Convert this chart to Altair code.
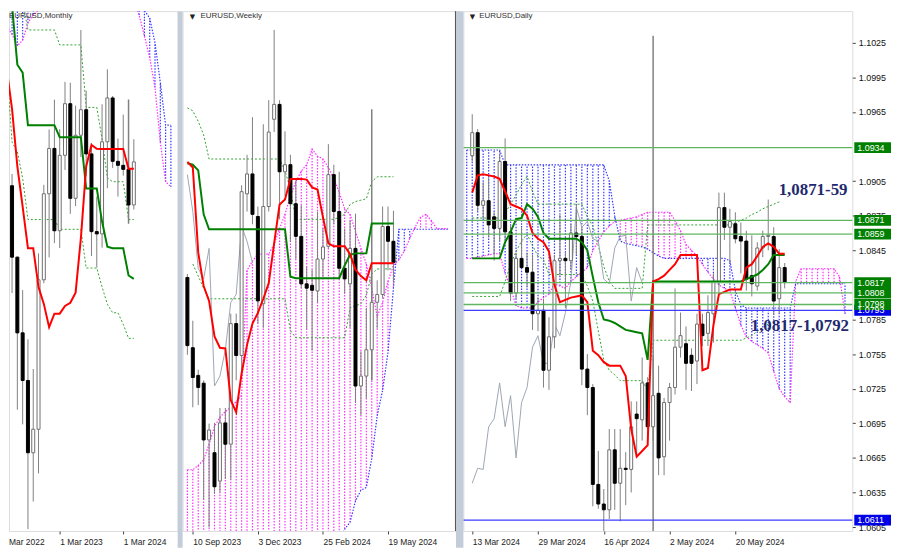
import altair as alt
import pandas as pd

FONT = "Liberation Sans"
PINK = "#ff2eff"
BLUE = "#3636ff"
RED = "#ff0000"
GREEN = "#008000"
GDOT = "#2ea52e"
CHIKOU = "#9ea6b2"
WICK = "#808080"
FRAME = "#4a4a4a"
BAND = "#c3cdd9"
LVL_GREEN = "#5fb85f"
LVL_BLUE = "#3c3cff"
NAVY = "#1f2a6e"

# ======================= MONTHLY (i0 = May 2022) =======================
m_ticks = [10, 22]
m_tick_labels = ["1 Mar 2023", "1 Mar 2024"]
m_open = [1.0543, 1.0733, 1.0484, 1.0220, 1.0054, 0.9802, 0.9884, 1.0405, 1.0705, 1.0863,
          1.0576, 1.0839, 1.1019, 1.0689, 1.0909, 1.0998, 1.0844, 1.0573, 1.0565, 1.0886,
          1.1039, 1.0818, 1.0804, 1.0790, 1.0666]
m_high = [1.0787, 1.0774, 1.0486, 1.0369, 1.0198, 1.0094, 1.0497, 1.0736, 1.0929, 1.1033,
          1.0930, 1.1095, 1.1092, 1.1012, 1.1276, 1.1064, 1.0882, 1.0695, 1.1017, 1.1139,
          1.1046, 1.0897, 1.0981, 1.0885, 1.0895]
m_low = [1.0349, 1.0359, 0.9952, 0.9901, 0.9536, 0.9632, 0.9730, 1.0393, 1.0483, 1.0533,
         1.0516, 1.0788, 1.0635, 1.0662, 1.0833, 1.0766, 1.0488, 1.0448, 1.0517, 1.0724,
         1.0795, 1.0695, 1.0768, 1.0601, 1.0650]
m_close = [1.0733, 1.0484, 1.0220, 1.0054, 0.9802, 0.9884, 1.0405, 1.0705, 1.0863, 1.0576,
           1.0839, 1.1019, 1.0689, 1.0909, 1.0998, 1.0844, 1.0573, 1.0565, 1.0886, 1.1039,
           1.0818, 1.0804, 1.0790, 1.0666, 1.0816]
m_tenkan = [1.1138, 1.1000, 1.0800, 1.0660, 1.0515, 1.0515, 1.0380, 1.0321, 1.0240, 1.0287,
            1.0287, 1.0314, 1.0325, 1.0360, 1.0550, 1.0800, 1.0875, 1.0862, 1.0861, 1.0861,
            1.0861, 1.0861, 1.0861, 1.0792, 1.0792]
m_kijun = [1.1359, 1.1359, 1.1155, 1.1127, 1.0944, 1.0944, 1.0944, 1.0944, 1.0944, 1.0944,
           1.0902, 1.0902, 1.0902, 1.0902, 1.0902, 1.0723, 1.0723, 1.0723, 1.0608, 1.0520,
           1.0515, 1.0515, 1.0515, 1.0420, 1.0408]
m_gd1_start = 3
m_gd1 = [1.1380, 1.1276, 1.1276, 1.1276, 1.1276, 1.1276, 1.1276, 1.1224, 1.1224, 1.1224,
         1.1224, 1.1224, 1.1006, 1.1006, 1.1006, 1.0896, 1.0760, 1.0747, 1.0747, 1.0747,
         1.0615, 1.0615]
m_gd2 = [1.1150, 1.0885, 1.0851, 1.0760, 1.0615, 1.0615, 1.0615, 1.0615, 1.0615, 1.0615,
         1.0581, 1.0581, 1.0581, 1.0581, 1.0581, 1.0446, 1.0446, 1.0446, 1.0380, 1.0320,
         1.0290, 1.0290, 1.0250, 1.0201, 1.0201]
m_span_a = [1.1290, 1.1260, 1.1221, 1.1240, 1.1300, 1.1330, 1.1345, 1.1400, 1.1400, 1.1400,
            1.1400, 1.1400, 1.1400, 1.1400, 1.1400, 1.1400, 1.1400, 1.1400, 1.1400, 1.1400,
            1.1400, 1.1400, 1.1400, 1.1400, 1.1369, 1.1328, 1.1255, 1.1179, 1.1075, 1.0885,
            1.0747, 1.0729]
m_span_b = [1.1420, 1.1420, 1.1420, 1.1420, 1.1420, 1.1420, 1.1420, 1.1420, 1.1420, 1.1420,
            1.1420, 1.1420, 1.1420, 1.1420, 1.1420, 1.1420, 1.1420, 1.1420, 1.1420, 1.1420,
            1.1420, 1.1420, 1.1420, 1.1420, 1.1420, 1.1370, 1.1345, 1.1317, 1.1231, 1.1093,
            1.0944, 1.0944]
m_vline = [(23, 1.1034, 1.0601)]

# ======================= WEEKLY (i0 = 3 Sep 2023) =======================
w_ticks = [1, 13, 25, 37]
w_tick_labels = ["10 Sep 2023", "3 Dec 2023", "25 Feb 2024", "19 May 2024"]
w_open = [1.0795, 1.0696, 1.0657, 1.0646, 1.0566, 1.0548, 1.0508, 1.0590, 1.0560, 1.0730,
          1.0685, 1.0913, 1.0941, 1.0881, 1.0758, 1.0895, 1.1018, 1.1039, 1.0944, 1.0954,
          1.0899, 1.0853, 1.0786, 1.0784, 1.0776, 1.0821, 1.0839, 1.0940, 1.0888, 1.0808,
          1.0786, 1.0836, 1.0642, 1.0656, 1.0693, 1.0760, 1.0771, 1.0867, 1.0846]
w_high = [1.0800, 1.0734, 1.0665, 1.0650, 1.0589, 1.0590, 1.0611, 1.0611, 1.0744, 1.0744,
          1.0925, 1.0968, 1.1021, 1.0895, 1.1011, 1.1045, 1.1144, 1.1045, 1.1001, 1.0968,
          1.0932, 1.0897, 1.0810, 1.0806, 1.0888, 1.0865, 1.0983, 1.0954, 1.0944, 1.0864,
          1.0876, 1.0885, 1.0691, 1.0752, 1.0812, 1.0791, 1.0895, 1.0895, 1.0889]
w_low = [1.0686, 1.0612, 1.0615, 1.0482, 1.0443, 1.0490, 1.0492, 1.0511, 1.0510, 1.0650,
         1.0660, 1.0888, 1.0870, 1.0730, 1.0724, 1.0888, 1.1000, 1.0877, 1.0910, 1.0845,
         1.0821, 1.0780, 1.0722, 1.0692, 1.0760, 1.0796, 1.0836, 1.0870, 1.0794, 1.0772,
         1.0724, 1.0618, 1.0601, 1.0624, 1.0650, 1.0723, 1.0765, 1.0805, 1.0788]
w_close = [1.0699, 1.0654, 1.0640, 1.0566, 1.0580, 1.0500, 1.0590, 1.0560, 1.0730, 1.0685,
           1.0916, 1.0941, 1.0884, 1.0762, 1.0895, 1.1000, 1.1039, 1.0944, 1.0954, 1.0899,
           1.0853, 1.0786, 1.0780, 1.0777, 1.0821, 1.0838, 1.0940, 1.0888, 1.0808, 1.0793,
           1.0836, 1.0642, 1.0656, 1.0693, 1.0760, 1.0771, 1.0867, 1.0846, 1.0816]
w_tenkan = [1.0958, 1.0950, 1.0830, 1.0783, 1.0762, 1.0712, 1.0696, 1.0695, 1.0622, 1.0605,
            1.0660, 1.0700, 1.0730, 1.0745, 1.0765, 1.0787, 1.0843, 1.0898, 1.0905, 1.0934,
            1.0934, 1.0934, 1.0933, 1.0922, 1.0919, 1.0880, 1.0843, 1.0839, 1.0839, 1.0839,
            1.0828, 1.0806, 1.0797, 1.0791, 1.0815, 1.0815, 1.0815, 1.0815, 1.0815]
w_kijun = [1.0956, 1.0954, 1.0946, 1.0884, 1.0863, 1.0863, 1.0863, 1.0863, 1.0863, 1.0863,
           1.0863, 1.0863, 1.0863, 1.0863, 1.0863, 1.0863, 1.0863, 1.0863, 1.0863, 1.0796,
           1.0794, 1.0794, 1.0794, 1.0794, 1.0794, 1.0794, 1.0794, 1.0794, 1.0794, 1.0812,
           1.0827, 1.0829, 1.0829, 1.0829, 1.0871, 1.0871, 1.0871, 1.0871, 1.0871]
w_chikou = [1.0940, 1.0888, 1.0808, 1.0793, 1.0836, 1.0642, 1.0656, 1.0693, 1.0760, 1.0771,
            1.0867, 1.0846, 1.0816]
w_gd1 = [1.1034, 1.1030, 1.1015, 1.0996, 1.0962, 1.0962, 1.0962, 1.0962, 1.0962, 1.0962,
         1.0962, 1.0962, 1.0962, 1.0962, 1.0962, 1.0962, 1.0962, 1.0962, 1.0945, 1.0920,
         1.0877, 1.0877, 1.0877, 1.0877, 1.0877, 1.0877, 1.0877, 1.0877, 1.0880, 1.0884,
         1.0898, 1.0902, 1.0904, 1.0906, 1.0930, 1.0937, 1.0937, 1.0937, 1.0937]
w_gd2_start = 1
w_gd2 = [1.0814, 1.0797, 1.0780, 1.0765, 1.0765, 1.0765, 1.0765, 1.0765, 1.0765, 1.0765,
         1.0765, 1.0765, 1.0765, 1.0765, 1.0765, 1.0765, 1.0765, 1.0765, 1.0720, 1.0710,
         1.0710, 1.0710, 1.0710, 1.0710, 1.0710, 1.0710, 1.0710, 1.0710, 1.0710, 1.0752,
         1.0755, 1.0758, 1.0770, 1.0800, 1.0807, 1.0807, 1.0807, 1.0807]
w_span_a = [1.0524, 1.0524, 1.0530, 1.0538, 1.0560, 1.0585, 1.0598, 1.0606, 1.0612, 1.0620,
            1.0629, 1.0805, 1.0818, 1.0828, 1.0828, 1.0828, 1.0842, 1.0864, 1.0884, 1.0910,
            1.0930, 1.0945, 1.0954, 1.0976, 1.0966, 1.0962, 1.0950, 1.0935, 1.0915, 1.0892,
            1.0884, 1.0860, 1.0836, 1.0814, 1.0780, 1.0740, 1.0760, 1.0790, 1.0812, 1.0820,
            1.0832, 1.0850, 1.0866, 1.0880, 1.0884, 1.0875, 1.0864, 1.0864, 1.0864]
w_span_b = [1.0380, 1.0380, 1.0380, 1.0380, 1.0380, 1.0380, 1.0380, 1.0380, 1.0380, 1.0380,
            1.0380, 1.0380, 1.0380, 1.0380, 1.0380, 1.0380, 1.0380, 1.0380, 1.0380, 1.0380,
            1.0380, 1.0380, 1.0380, 1.0380, 1.0380, 1.0380, 1.0380, 1.0380, 1.0426, 1.0440,
            1.0450, 1.0480, 1.0495, 1.0499, 1.0540, 1.0600, 1.0636, 1.0690, 1.0780, 1.0863,
            1.0863, 1.0863, 1.0863, 1.0863, 1.0863, 1.0863, 1.0863, 1.0863, 1.0863]
w_vline = [(34, 1.1032, 1.0650)]

# ======================= DAILY (i0 = 13 Mar 2024) =======================
d_ticks = [0, 12, 24, 36, 48]
d_tick_labels = ["13 Mar 2024", "29 Mar 2024", "16 Apr 2024", "2 May 2024", "20 May 2024"]
d_open = [1.0927, 1.0947, 1.0884, 1.0888, 1.0874, 1.0864, 1.0922, 1.0861, 1.0808, 1.0838,
          1.0830, 1.0826, 1.0790, 1.0793, 1.0741, 1.0770, 1.0836, 1.0838, 1.0836, 1.0860,
          1.0857, 1.0742, 1.0726, 1.0642, 1.0625, 1.0620, 1.0672, 1.0643, 1.0656, 1.0655,
          1.0703, 1.0698, 1.0730, 1.0692, 1.0721, 1.0666, 1.0713, 1.0726, 1.0761, 1.0764,
          1.0754, 1.0749, 1.0781, 1.0773, 1.0790, 1.0817, 1.0882, 1.0865, 1.0868, 1.0857,
          1.0853, 1.0823, 1.0814, 1.0847, 1.0857, 1.0857, 1.0803, 1.0830]
d_high = [1.0963, 1.0950, 1.0904, 1.0908, 1.0878, 1.0929, 1.0942, 1.0867, 1.0843, 1.0865,
          1.0843, 1.0841, 1.0804, 1.0803, 1.0787, 1.0841, 1.0876, 1.0843, 1.0868, 1.0885,
          1.0865, 1.0755, 1.0729, 1.0671, 1.0638, 1.0690, 1.0690, 1.0690, 1.0670, 1.0714,
          1.0714, 1.0752, 1.0735, 1.0754, 1.0745, 1.0717, 1.0730, 1.0812, 1.0791, 1.0779,
          1.0760, 1.0790, 1.0790, 1.0806, 1.0825, 1.0895, 1.0895, 1.0881, 1.0878, 1.0869,
          1.0862, 1.0858, 1.0852, 1.0862, 1.0889, 1.0865, 1.0846, 1.0834]
d_low = [1.0922, 1.0879, 1.0872, 1.0856, 1.0836, 1.0853, 1.0854, 1.0801, 1.0803, 1.0831,
         1.0813, 1.0776, 1.0775, 1.0726, 1.0724, 1.0760, 1.0823, 1.0795, 1.0828, 1.0841,
         1.0728, 1.0702, 1.0623, 1.0621, 1.0601, 1.0612, 1.0620, 1.0610, 1.0624, 1.0635,
         1.0666, 1.0680, 1.0675, 1.0680, 1.0650, 1.0650, 1.0680, 1.0720, 1.0752, 1.0724,
         1.0723, 1.0729, 1.0762, 1.0762, 1.0765, 1.0806, 1.0854, 1.0834, 1.0851, 1.0825,
         1.0810, 1.0805, 1.0810, 1.0839, 1.0845, 1.0789, 1.0790, 1.0812]
d_close = [1.0947, 1.0884, 1.0888, 1.0867, 1.0864, 1.0922, 1.0861, 1.0808, 1.0838, 1.0830,
           1.0826, 1.0790, 1.0793, 1.0741, 1.0770, 1.0836, 1.0838, 1.0836, 1.0860, 1.0857,
           1.0742, 1.0726, 1.0642, 1.0625, 1.0620, 1.0672, 1.0643, 1.0656, 1.0655, 1.0692,
           1.0699, 1.0730, 1.0692, 1.0719, 1.0665, 1.0713, 1.0726, 1.0761, 1.0771, 1.0747,
           1.0747, 1.0781, 1.0771, 1.0791, 1.0818, 1.0882, 1.0865, 1.0870, 1.0855, 1.0853,
           1.0820, 1.0816, 1.0847, 1.0857, 1.0858, 1.0801, 1.0830, 1.0817]
d_tenkan = [1.0895, 1.0910, 1.0911, 1.0910, 1.0909, 1.0907, 1.0896, 1.0885, 1.0883, 1.0881,
            1.0875, 1.0860, 1.0855, 1.0852, 1.0844, 1.0815, 1.0800, 1.0802, 1.0804, 1.0805,
            1.0806, 1.0800, 1.0758, 1.0754, 1.0748, 1.0745, 1.0745, 1.0745, 1.0736, 1.0690,
            1.0666, 1.0671, 1.0676, 1.0818, 1.0820, 1.0823, 1.0828, 1.0833, 1.0841, 1.0841,
            1.0841, 1.0841, 1.0741, 1.0743, 1.0780, 1.0807, 1.0809, 1.0811, 1.0811, 1.0811,
            1.0830, 1.0833, 1.0840, 1.0848, 1.0851, 1.0848, 1.0842, 1.0842]
d_kijun = [1.0838, 1.0838, 1.0838, 1.0838, 1.0838, 1.0838, 1.0852, 1.0861, 1.0872, 1.0873,
           1.0885, 1.0881, 1.0874, 1.0860, 1.0855, 1.0855, 1.0855, 1.0855, 1.0855, 1.0855,
           1.0852, 1.0845, 1.0822, 1.0800, 1.0785, 1.0784, 1.0782, 1.0779, 1.0776, 1.0775,
           1.0774, 1.0773, 1.0750, 1.0818, 1.0818, 1.0818, 1.0818, 1.0818, 1.0818, 1.0818,
           1.0818, 1.0818, 1.0818, 1.0818, 1.0818, 1.0818, 1.0818, 1.0818, 1.0818, 1.0818,
           1.0820, 1.0822, 1.0824, 1.0828, 1.0833, 1.0841, 1.0841, 1.0841]
d_chikou = [1.0643, 1.0656, 1.0655, 1.0692, 1.0699, 1.0730, 1.0692, 1.0719, 1.0665, 1.0713,
            1.0726, 1.0761, 1.0771, 1.0747, 1.0747, 1.0781, 1.0771, 1.0791, 1.0818, 1.0882,
            1.0865, 1.0870, 1.0855, 1.0853, 1.0820, 1.0816, 1.0847, 1.0857, 1.0858, 1.0801,
            1.0830, 1.0817]
d_gd1 = [1.0873, 1.0873, 1.0873, 1.0873, 1.0873, 1.0873, 1.0877, 1.0885, 1.0893, 1.0902,
         1.0909, 1.0896, 1.0885, 1.0885, 1.0885, 1.0885, 1.0885, 1.0885, 1.0885, 1.0885,
         1.0885, 1.0874, 1.0866, 1.0849, 1.0831, 1.0818, 1.0812, 1.0812, 1.0812, 1.0812,
         1.0812, 1.0812, 1.0867, 1.0867, 1.0867, 1.0867, 1.0867, 1.0867, 1.0867, 1.0867,
         1.0867, 1.0867, 1.0867, 1.0867, 1.0867, 1.0867, 1.0867, 1.0867, 1.0869, 1.0871,
         1.0873, 1.0876, 1.0878, 1.0881, 1.0883, 1.0885, 1.0887]
d_gd2 = [1.0805, 1.0805, 1.0805, 1.0805, 1.0805, 1.0805, 1.0818, 1.0833, 1.0844, 1.0853,
         1.0859, 1.0849, 1.0840, 1.0837, 1.0824, 1.0824, 1.0824, 1.0824, 1.0824, 1.0824,
         1.0824, 1.0814, 1.0801, 1.0775, 1.0750, 1.0741, 1.0737, 1.0732, 1.0732, 1.0732,
         1.0732, 1.0732, 1.0724, 1.0767, 1.0767, 1.0767, 1.0767, 1.0767, 1.0767, 1.0767,
         1.0767, 1.0767, 1.0767, 1.0767, 1.0767, 1.0767, 1.0767, 1.0767, 1.0767, 1.0767,
         1.0769, 1.0771, 1.0775, 1.0778, 1.0781]
d_cloud_start = -1
d_span_a = [1.0838,
            1.0838, 1.0839, 1.0840, 1.0841, 1.0842, 1.0842,
            1.0825, 1.0812, 1.0797, 1.0795, 1.0795, 1.0795,
            1.0800, 1.0804, 1.0807, 1.0816, 1.0814, 1.0812,
            1.0818, 1.0822, 1.0826, 1.0830, 1.0845, 1.0853,
            1.0861, 1.0866, 1.0870, 1.0871, 1.0872, 1.0873,
            1.0874, 1.0876, 1.0878, 1.0878, 1.0878, 1.0878,
            1.0878, 1.0871, 1.0862, 1.0850, 1.0845, 1.0840,
            1.0833, 1.0826, 1.0820, 1.0815, 1.0812, 1.0810,
            1.0795, 1.0780, 1.0770, 1.0766, 1.0763, 1.0760,
            1.0756, 1.0740, 1.0725, 1.0718, 1.0713, 1.0818,
            1.0829, 1.0829, 1.0829, 1.0829, 1.0829, 1.0829,
            1.0829, 1.0822, 1.0790]
d_span_b = [1.0932, 1.0932, 1.0932, 1.0932, 1.0932, 1.0932, 1.0932,
            1.0919, 1.0919, 1.0919, 1.0919, 1.0919, 1.0919, 1.0919, 1.0919, 1.0919, 1.0919,
            1.0919, 1.0919, 1.0919, 1.0919, 1.0919, 1.0919, 1.0919, 1.0919, 1.0919,
            1.0905, 1.0875, 1.0853, 1.0851, 1.0850, 1.0849, 1.0848, 1.0846, 1.0843, 1.0840,
            1.0838, 1.0838, 1.0838, 1.0838, 1.0838, 1.0838, 1.0838, 1.0838, 1.0838, 1.0838,
            1.0838, 1.0838, 1.0836, 1.0810, 1.0798,
            1.0795, 1.0795, 1.0795, 1.0795, 1.0795, 1.0795, 1.0795, 1.0795, 1.0795,
            1.0816, 1.0816, 1.0816, 1.0816, 1.0816, 1.0816, 1.0816, 1.0816, 1.0816, 1.0816]
d_vline = [(33, 1.1031, 1.0590)]
d_y_ticks = [1.1025, 1.0995, 1.0965, 1.0905, 1.0875, 1.0845, 1.0785,
             1.0755, 1.0725, 1.0695, 1.0665, 1.0635, 1.0605]
lvl_values = [1.0611, 1.0793, 1.0934, 1.0871, 1.0859, 1.0817, 1.0808, 1.0798]
lvl_kind = ["blue", "blue", "green", "green", "green", "green", "green", "green"]
ann_text = ["1,0871-59", "1,0817-1,0792"]
ann_i = [55.9, 50.8]
ann_price = [1.08932, 1.07754]


# ----------------------------------------------------------------------
def seq(vals, start=0):
    return pd.DataFrame({"i": [start + k for k in range(len(vals))], "v": vals})


def candles(o, h, l, c):
    up = [cc >= oo for oo, cc in zip(o, c)]
    return pd.DataFrame({
        "i": list(range(len(o))), "o": o, "h": h, "l": l, "c": c,
        "fill": ["#ffffff" if u else "#000000" for u in up],
        "stroke": ["#6e6e6e" if u else "#000000" for u in up],
    })


def cloud(a, b, start=0):
    return pd.DataFrame({
        "i": [start + k for k in range(len(a))], "a": a, "b": b,
        "col": [PINK if x >= y else BLUE for x, y in zip(a, b)],
    })


def label_expr(ticks, labels):
    expr = "''"
    for t, s in reversed(list(zip(ticks, labels))):
        expr = f"datum.value == {t} ? '{s}' : ({expr})"
    return expr


def panel(W, H, xdom, ydom, cdf, tenkan, kijun, chikou, gds, cl, ticks, tlabels,
          vlines, yaxis=None, band=0, title="", title_x=0, tri_x=None, extra=None,
          right_line=None):
    xs = alt.Scale(domain=xdom, nice=False, zero=False)
    ys = alt.Scale(domain=ydom, nice=False, zero=False)
    xax = alt.Axis(values=ticks, labelExpr=label_expr(ticks, tlabels), title=None,
                   domain=False, grid=False, tickSize=3, tickColor="#444",
                   labelAlign="left", labelBaseline="top", labelFontSize=8.5,
                   labelFont=FONT, labelColor="#222", labelPadding=4,
                   labelFlush=False, labelOverlap=False, labelBound=False)
    X = alt.X("i:Q", scale=xs, axis=xax)

    def Y(f):
        return alt.Y(f, scale=ys, axis=yaxis)

    one = pd.DataFrame({"k": [0]})
    layers = []
    layers.append(alt.Chart(cl).mark_rule(strokeDash=[1.5, 1.5], strokeWidth=1.2,
                                          clip=True).encode(
        x=X, y=Y("a:Q"), y2="b:Q", color=alt.Color("col:N", scale=None)))
    layers.append(alt.Chart(cl).mark_line(strokeDash=[1.5, 1.5], strokeWidth=1.2, color=PINK,
                                          clip=True).encode(x=X, y=Y("a:Q")))
    layers.append(alt.Chart(cl).mark_line(strokeDash=[1.5, 1.5], strokeWidth=1.2, color=BLUE,
                                          clip=True).encode(x=X, y=Y("b:Q")))
    for g in gds:
        layers.append(alt.Chart(g).mark_line(strokeDash=[2, 2], strokeWidth=1, color=GDOT,
                                             clip=True).encode(x=X, y=Y("v:Q")))
    if chikou is not None:
        layers.append(alt.Chart(chikou).mark_line(strokeWidth=1, color=CHIKOU,
                                                  clip=True).encode(x=X, y=Y("v:Q")))
    vdf = pd.DataFrame({"i": [v[0] for v in vlines], "top": [v[1] for v in vlines],
                        "bot": [v[2] for v in vlines]})
    layers.append(alt.Chart(vdf).mark_rule(color=WICK, strokeWidth=1.5, clip=True).encode(
        x=X, y=Y("top:Q"), y2="bot:Q"))
    layers.append(alt.Chart(cdf).mark_rule(color=WICK, strokeWidth=1, clip=True).encode(
        x=X, y=Y("l:Q"), y2="h:Q"))
    layers.append(alt.Chart(cdf).mark_bar(size=3, strokeWidth=1, clip=True,
                                          orient="vertical").encode(
        x=X, y=Y("o:Q"), y2="c:Q",
        fill=alt.Fill("fill:N", scale=None), stroke=alt.Stroke("stroke:N", scale=None)))
    layers.append(alt.Chart(kijun).mark_line(strokeWidth=2, color=GREEN,
                                             clip=True).encode(x=X, y=Y("v:Q")))
    layers.append(alt.Chart(tenkan).mark_line(strokeWidth=2, color=RED,
                                              clip=True).encode(x=X, y=Y("v:Q")))
    if extra is not None:
        layers.extend(extra(X, Y, W, H))
    if band:
        layers.append(alt.Chart(one).mark_rect(color=BAND).encode(
            x=alt.value(-band), x2=alt.value(0), y=alt.value(0), y2=alt.value(H + 17)))
    if right_line is not None:
        layers.append(alt.Chart(one).mark_rule(color=FRAME, strokeWidth=1).encode(
            x=alt.value(right_line), y=alt.value(0), y2=alt.value(H)))
    # title
    if tri_x is not None:
        layers.append(alt.Chart(pd.DataFrame({"t": ["\u25bc"]})).mark_text(
            align="center", baseline="top", fontSize=7, font="DejaVu Sans",
            color="#222").encode(x=alt.value(tri_x), y=alt.value(2), text="t:N"))
    layers.append(alt.Chart(pd.DataFrame({"t": [title]})).mark_text(
        align="left", baseline="top", fontSize=8, font=FONT, color="#333").encode(
        x=alt.value(title_x), y=alt.value(1), text="t:N"))
    return alt.layer(*layers).properties(width=W, height=H)


H = 524

# ---------- monthly (page x 8 -> 178) ----------
mon = panel(
    170, H, [1.358, 31.34], [0.95292, 1.13417],
    candles(m_open, m_high, m_low, m_close), seq(m_tenkan), seq(m_kijun), None,
    [seq(m_gd1, m_gd1_start), seq(m_gd2)], cloud(m_span_a, m_span_b),
    m_ticks, m_tick_labels, m_vline, title="EURUSD,Monthly", title_x=0,
    extra=lambda X, Y, W, Hh: [alt.Chart(pd.DataFrame({"t": ["Mar 2022"]})).mark_text(
        align="left", baseline="top", fontSize=8.5, font=FONT, color="#222").encode(
        x=alt.value(0), y=alt.value(Hh + 7), text="t:N")])

# ---------- weekly (page x 183 -> 461, frame drawn at 458) ----------
wk = panel(
    278, H, [0.035, 49.07], [1.04376, 1.11705],
    candles(w_open, w_high, w_low, w_close), seq(w_tenkan), seq(w_kijun), seq(w_chikou),
    [seq(w_gd1), seq(w_gd2, w_gd2_start)], cloud(w_span_a, w_span_b),
    w_ticks, w_tick_labels, w_vline, band=5, title="EURUSD,Weekly", title_x=18, tri_x=10,
    right_line=275)


# ---------- daily (page x 466 -> 858) ----------
def daily_extra(X, Y, W, Hh):
    lv = pd.DataFrame({
        "lvl": lvl_values,
        "txt": [f"{v:.4f}" for v in lvl_values],
        "lcol": [LVL_GREEN if k == "green" else LVL_BLUE for k in lvl_kind],
        "bcol": ["#008000" if k == "green" else "#0000e6" for k in lvl_kind],
    })
    out = []
    out.append(alt.Chart(lv).mark_rule(strokeWidth=1.3).encode(
        y=Y("lvl:Q"), color=alt.Color("lcol:N", scale=None)))
    out.append(alt.Chart(lv).transform_calculate(
        lo="datum.lvl - 0.00047", hi="datum.lvl + 0.00047").mark_rect().encode(
        x=alt.value(W + 2), x2=alt.value(W + 39), y=Y("lo:Q"), y2="hi:Q",
        color=alt.Color("bcol:N", scale=None)))
    out.append(alt.Chart(lv).mark_text(align="left", baseline="middle", fontSize=9,
                                       font=FONT, color="white").encode(
        x=alt.value(W + 5), y=Y("lvl:Q"), text="txt:N"))
    ann = pd.DataFrame({"i": ann_i, "p": ann_price, "t": ann_text})
    out.append(alt.Chart(ann).mark_text(align="left", baseline="alphabetic", fontSize=17,
                                        font="Liberation Serif", fontWeight="bold",
                                        color=NAVY).encode(x=X, y=Y("p:Q"), text="t:N"))
    return out


d_yaxis = alt.Axis(orient="right", values=d_y_ticks, format=".4f", title=None,
                   domain=False, grid=False, tickSize=3, tickColor="#444",
                   labelFontSize=9, labelFont=FONT, labelColor="#111", labelPadding=3,
                   labelOverlap=False, labelFlush=False, labelBaseline="middle")

dl = panel(
    392, H, [-0.705, 68.43], [1.06016, 1.10524],
    candles(d_open, d_high, d_low, d_close), seq(d_tenkan), seq(d_kijun), seq(d_chikou),
    [seq(d_gd1), seq(d_gd2)], cloud(d_span_a, d_span_b, d_cloud_start),
    d_ticks, d_tick_labels, d_vline, yaxis=d_yaxis, band=7.5,
    title="EURUSD,Daily", title_x=16, tri_x=9, extra=daily_extra)

chart = alt.hconcat(mon, wk, dl, spacing=5, bounds="flush", padding=0).configure_view(
    stroke=FRAME, strokeWidth=1).configure(background="white")

chart.save("out.html", embed_options={"renderer": "svg", "actions": False})
